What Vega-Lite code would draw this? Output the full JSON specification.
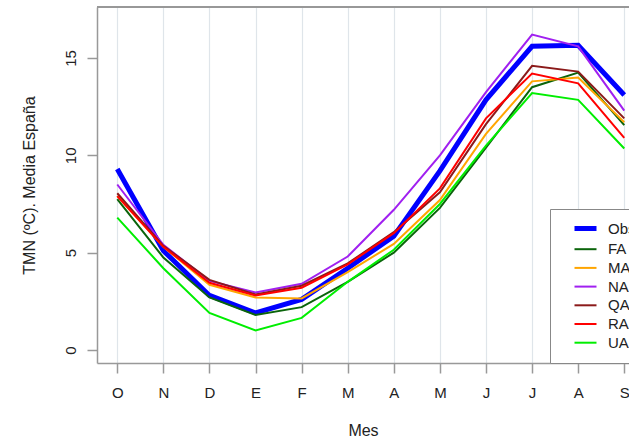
{
  "$schema": "https://vega.github.io/schema/vega-lite/v6.json",
  "width": 532,
  "height": 356,
  "autosize": {"type": "none"},
  "padding": {"left": 97, "top": 7, "right": 0, "bottom": 78},
  "background": "white",
  "config": {
    "view": {"stroke": null},
    "font": "Liberation Sans",
    "axis": {
      "labelFont": "Liberation Sans",
      "titleFont": "Liberation Sans",
      "labelFontSize": 15,
      "titleFontSize": 16,
      "titleFontWeight": "normal",
      "labelColor": "#222",
      "titleColor": "#222",
      "domainColor": "#999",
      "domainWidth": 1.5,
      "tickColor": "#999",
      "tickWidth": 1.5,
      "tickSize": 10
    },
    "legend": {
      "labelFont": "Liberation Sans",
      "labelFontSize": 15,
      "labelColor": "#222"
    }
  },
  "data": {
    "values": [
      {"m": 1, "s": "Obs", "v": 9.3}, {"m": 2, "s": "Obs", "v": 5.1}, {"m": 3, "s": "Obs", "v": 2.8}, {"m": 4, "s": "Obs", "v": 1.9}, {"m": 5, "s": "Obs", "v": 2.6}, {"m": 6, "s": "Obs", "v": 4.2}, {"m": 7, "s": "Obs", "v": 5.85}, {"m": 8, "s": "Obs", "v": 9.2}, {"m": 9, "s": "Obs", "v": 12.85}, {"m": 10, "s": "Obs", "v": 15.6}, {"m": 11, "s": "Obs", "v": 15.65}, {"m": 12, "s": "Obs", "v": 13.1},
      {"m": 1, "s": "FA", "v": 7.75}, {"m": 2, "s": "FA", "v": 4.75}, {"m": 3, "s": "FA", "v": 2.7}, {"m": 4, "s": "FA", "v": 1.8}, {"m": 5, "s": "FA", "v": 2.2}, {"m": 6, "s": "FA", "v": 3.5}, {"m": 7, "s": "FA", "v": 5.0}, {"m": 8, "s": "FA", "v": 7.3}, {"m": 9, "s": "FA", "v": 10.4}, {"m": 10, "s": "FA", "v": 13.5}, {"m": 11, "s": "FA", "v": 14.25}, {"m": 12, "s": "FA", "v": 11.55},
      {"m": 1, "s": "MA", "v": 7.9}, {"m": 2, "s": "MA", "v": 5.3}, {"m": 3, "s": "MA", "v": 3.35}, {"m": 4, "s": "MA", "v": 2.7}, {"m": 5, "s": "MA", "v": 2.65}, {"m": 6, "s": "MA", "v": 4.0}, {"m": 7, "s": "MA", "v": 5.45}, {"m": 8, "s": "MA", "v": 7.7}, {"m": 9, "s": "MA", "v": 11.1}, {"m": 10, "s": "MA", "v": 13.8}, {"m": 11, "s": "MA", "v": 14.0}, {"m": 12, "s": "MA", "v": 11.7},
      {"m": 1, "s": "NA", "v": 8.5}, {"m": 2, "s": "NA", "v": 5.4}, {"m": 3, "s": "NA", "v": 3.55}, {"m": 4, "s": "NA", "v": 2.95}, {"m": 5, "s": "NA", "v": 3.4}, {"m": 6, "s": "NA", "v": 4.8}, {"m": 7, "s": "NA", "v": 7.2}, {"m": 8, "s": "NA", "v": 10.0}, {"m": 9, "s": "NA", "v": 13.25}, {"m": 10, "s": "NA", "v": 16.2}, {"m": 11, "s": "NA", "v": 15.6}, {"m": 12, "s": "NA", "v": 12.3},
      {"m": 1, "s": "QA", "v": 8.05}, {"m": 2, "s": "QA", "v": 5.35}, {"m": 3, "s": "QA", "v": 3.6}, {"m": 4, "s": "QA", "v": 2.85}, {"m": 5, "s": "QA", "v": 3.3}, {"m": 6, "s": "QA", "v": 4.45}, {"m": 7, "s": "QA", "v": 6.05}, {"m": 8, "s": "QA", "v": 8.1}, {"m": 9, "s": "QA", "v": 11.6}, {"m": 10, "s": "QA", "v": 14.6}, {"m": 11, "s": "QA", "v": 14.3}, {"m": 12, "s": "QA", "v": 11.9},
      {"m": 1, "s": "RA", "v": 7.9}, {"m": 2, "s": "RA", "v": 5.3}, {"m": 3, "s": "RA", "v": 3.45}, {"m": 4, "s": "RA", "v": 2.8}, {"m": 5, "s": "RA", "v": 3.2}, {"m": 6, "s": "RA", "v": 4.4}, {"m": 7, "s": "RA", "v": 6.0}, {"m": 8, "s": "RA", "v": 8.3}, {"m": 9, "s": "RA", "v": 11.9}, {"m": 10, "s": "RA", "v": 14.2}, {"m": 11, "s": "RA", "v": 13.7}, {"m": 12, "s": "RA", "v": 10.9},
      {"m": 1, "s": "UA", "v": 6.8}, {"m": 2, "s": "UA", "v": 4.2}, {"m": 3, "s": "UA", "v": 1.9}, {"m": 4, "s": "UA", "v": 1.0}, {"m": 5, "s": "UA", "v": 1.65}, {"m": 6, "s": "UA", "v": 3.5}, {"m": 7, "s": "UA", "v": 5.15}, {"m": 8, "s": "UA", "v": 7.5}, {"m": 9, "s": "UA", "v": 10.5}, {"m": 10, "s": "UA", "v": 13.2}, {"m": 11, "s": "UA", "v": 12.85}, {"m": 12, "s": "UA", "v": 10.35}
    ]
  },
  "layer": [
    {
      "mark": {"type": "line", "clip": true},
      "encoding": {
        "x": {
          "field": "m",
          "type": "quantitative",
          "scale": {"domain": [0.56, 12.103], "nice": false, "zero": false},
          "axis": {
            "values": [1, 2, 3, 4, 5, 6, 7, 8, 9, 10, 11, 12],
            "labelExpr": "['O','N','D','E','F','M','A','M','J','J','A','S'][datum.value - 1]",
            "grid": true,
            "gridColor": "#dfe5ea",
            "gridWidth": 1.2,
            "labelPadding": 12,
            "labelFlush": false,
            "title": "Mes",
            "titlePadding": 22
          }
        },
        "y": {
          "field": "v",
          "type": "quantitative",
          "scale": {"domain": [-0.67, 17.62], "nice": false, "zero": false},
          "axis": {
            "values": [0, 5, 10, 15],
            "grid": false,
            "labelAngle": -90,
            "labelAlign": "center",
            "labelBaseline": "bottom",
            "labelPadding": 9,
            "title": "TMN (ºC). Media España",
            "titlePadding": 26
          }
        },
        "color": {
          "field": "s",
          "type": "nominal",
          "scale": {
            "domain": ["Obs", "FA", "MA", "NA", "QA", "RA", "UA"],
            "range": ["#0000ff", "#0b640b", "#ffa500", "#a020f0", "#8b1a1a", "#ff0000", "#00ee00"]
          },
          "legend": {
            "orient": "none",
            "legendX": 453,
            "legendY": 202,
            "title": null,
            "symbolType": "M-2.2,0H2.2",
            "symbolSize": 100,
            "symbolOffset": 16,
            "symbolStrokeWidth": 2,
            "strokeColor": "#888",
            "fillColor": "white",
            "padding": 12,
            "rowPadding": 2.7,
            "labelOffset": 15,
            "encode": {
              "symbols": {"update": {"strokeWidth": {"signal": "datum.value === 'Obs' ? 5 : 2"}}}
            }
          }
        },
        "strokeWidth": {
          "field": "s",
          "type": "nominal",
          "scale": {
            "type": "ordinal",
            "domain": ["Obs", "FA", "MA", "NA", "QA", "RA", "UA"],
            "range": [5, 2, 2, 2, 2, 2, 2]
          },
          "legend": null
        }
      }
    },
    {
      "mark": {"type": "rule", "color": "#999", "strokeWidth": 1.5},
      "encoding": {"y": {"datum": 17.62}}
    }
  ]
}
